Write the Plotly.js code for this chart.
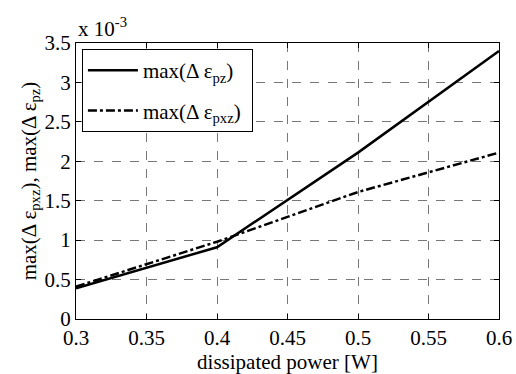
<!DOCTYPE html>
<html><head><meta charset="utf-8">
<script src="https://cdn.plot.ly/plotly-3.0.1.min.js"></script>
<style>html,body{margin:0;padding:0;background:#fff}</style>
</head><body><div id="chart" style="width:516px;height:374px"></div>
<script>
// dissipated power [W]
const power = [0.3, 0.4, 0.5, 0.6];
// values in units of 1e-3
const maxDeltaEpsPz = [0.39, 0.91, 2.11, 3.4];
const maxDeltaEpsPxz = [0.41, 0.98, 1.61, 2.11];
const xTicks = [0.3, 0.35, 0.4, 0.45, 0.5, 0.55, 0.6];
const yTicks = [0, 0.5, 1, 1.5, 2, 2.5, 3, 3.5];

const font = {family: 'Times New Roman', size: 21, color: '#000'};
const traces = [
  {x: power, y: maxDeltaEpsPz, mode: 'lines', name: 'max(Δ ε<sub>pz</sub>) ',
   legendgroup: 'a', line: {color: '#000', width: 2.5, dash: 'solid'}},
  {x: power, y: maxDeltaEpsPxz, mode: 'lines', name: 'max(Δ ε<sub>pxz</sub>) ',
   legendgroup: 'b', line: {color: '#000', width: 2.5, dash: 'dashdot'}}
];
const axisCommon = {
  showline: true, linecolor: '#000', linewidth: 1, mirror: 'ticks',
  ticks: 'inside', ticklen: 5, tickcolor: '#000',
  showgrid: true, gridcolor: '#777', griddash: 'dash', gridwidth: 1,
  zeroline: false, tickfont: font
};
const layout = {
  width: 516, height: 374,
  margin: {l: 76, r: 17, t: 43, b: 55},
  paper_bgcolor: '#fff', plot_bgcolor: '#fff',
  font: font,
  xaxis: Object.assign({}, axisCommon, {
    range: [0.3, 0.6], tickvals: xTicks, ticktext: xTicks.map(String),
    title: {text: 'dissipated power [W]', font: font, standoff: 0}
  }),
  yaxis: Object.assign({}, axisCommon, {
    range: [0, 3.5], tickvals: yTicks, ticktext: yTicks.map(String),
    title: {text: 'max(Δ ε<sub>pxz</sub>), max(Δ ε<sub>pz</sub>)', font: font, standoff: 2}
  }),
  showlegend: true,
  legend: {x: 0.014, y: 0.978, xanchor: 'left', yanchor: 'top',
    bordercolor: '#000', borderwidth: 1, bgcolor: '#fff', font: font,
    itemwidth: 50, tracegroupgap: 10},
  annotations: [{xref: 'paper', yref: 'paper', x: 0.0, y: 1.0, xanchor: 'left', yanchor: 'bottom',
    text: 'x 10<sup>-3</sup>', showarrow: false, font: font}]
};
Plotly.newPlot('chart', traces, layout, {displayModeBar: false});
</script></body></html>
